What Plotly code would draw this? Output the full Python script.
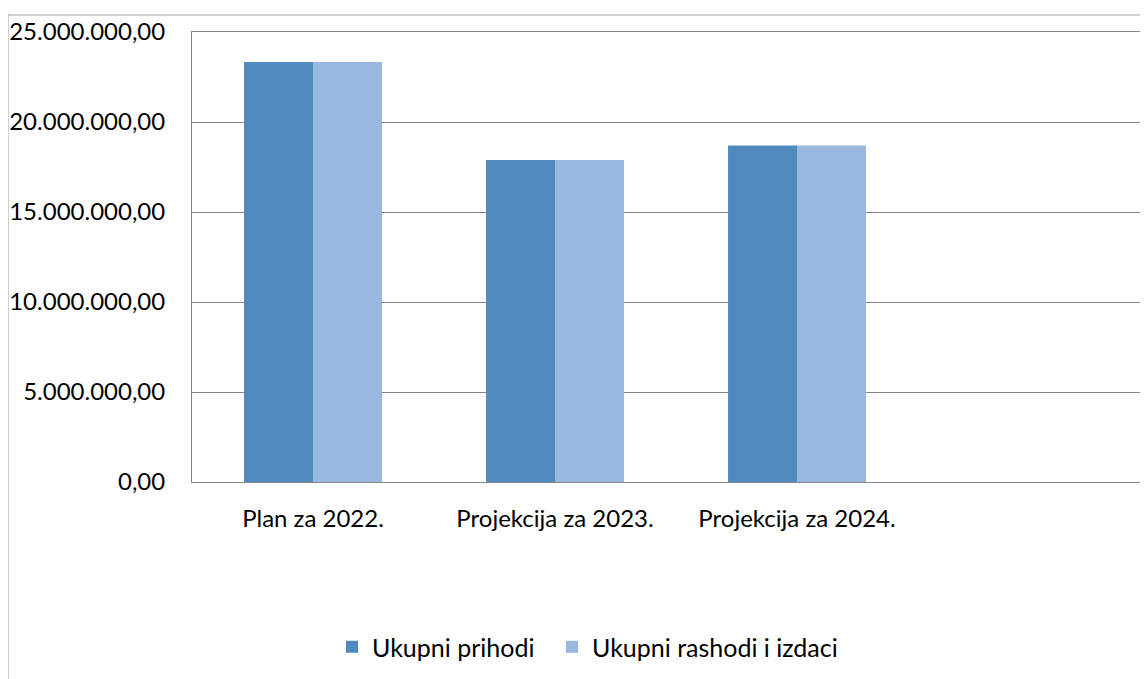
import plotly.graph_objects as go

categories = ["Plan za 2022.", "Projekcija za 2023.", "Projekcija za 2024."]
prihodi = [23330000, 17890000, 18690000]
rashodi = [23330000, 17890000, 18690000]
series_names = ["Ukupni prihodi", "Ukupni rashodi i izdaci"]
y_ticks = [0, 5000000, 10000000, 15000000, 20000000, 25000000]
y_tick_labels = ["0,00", "5.000.000,00", "10.000.000,00", "15.000.000,00",
                 "20.000.000,00", "25.000.000,00"]

x_pos = list(range(len(categories)))
FONT = "Lato"
GRID = "#868686"

fig = go.Figure()
fig.add_trace(go.Bar(x=x_pos, y=prihodi, name=series_names[0], legendwidth=175,
                     marker=dict(color="#4F89BD", line=dict(width=0))))
fig.add_trace(go.Bar(x=x_pos, y=rashodi, name=series_names[1],
                     marker=dict(color="#98B8DF", line=dict(width=0))))

OFF = 8  # page body margin
W, H = 1148 - OFF, 679 - OFF
L, T = 192 - OFF, 32 - OFF
B = H - (482 - OFF)
plot_h = H - T - B
plot_w = W - L

fig.update_layout(
    width=W, height=H,
    margin=dict(l=L, r=0, t=T, b=B, pad=0),
    paper_bgcolor="white", plot_bgcolor="white",
    barmode="group", bargap=0.43, bargroupgap=0,
    font=dict(family=FONT, size=24, color="#000000"),
    showlegend=True,
    legend=dict(orientation="h", x=(332 - 192) / plot_w, xanchor="left",
                y=(482 - 647) / plot_h, yanchor="middle",
                font=dict(family=FONT, size=25), itemwidth=30,
                bgcolor="rgba(0,0,0,0)"),
    xaxis=dict(range=[-0.5, -0.5 + plot_w / 242.0], tickvals=x_pos,
               ticktext=categories, showgrid=False, zeroline=False,
               showline=True, mirror=True, linecolor=GRID, linewidth=1,
               ticks="", ticklabelstandoff=15, fixedrange=True),
    yaxis=dict(range=[0, 25000000], tickvals=y_ticks, ticktext=y_tick_labels,
               showgrid=True, gridcolor=GRID, gridwidth=1, zeroline=False,
               showline=True, linecolor=GRID, linewidth=1, ticks="",
               ticklabelstandoff=21, fixedrange=True),
    shapes=[dict(type="rect", xref="paper", yref="paper",
                 x0=(8 - 192) / plot_w, x1=1.2,
                 y0=-1.0, y1=(482 - 15) / plot_h,
                 line=dict(color="#A0A0A0", width=1), layer="below")],
)

fig.write_html("out.html")
